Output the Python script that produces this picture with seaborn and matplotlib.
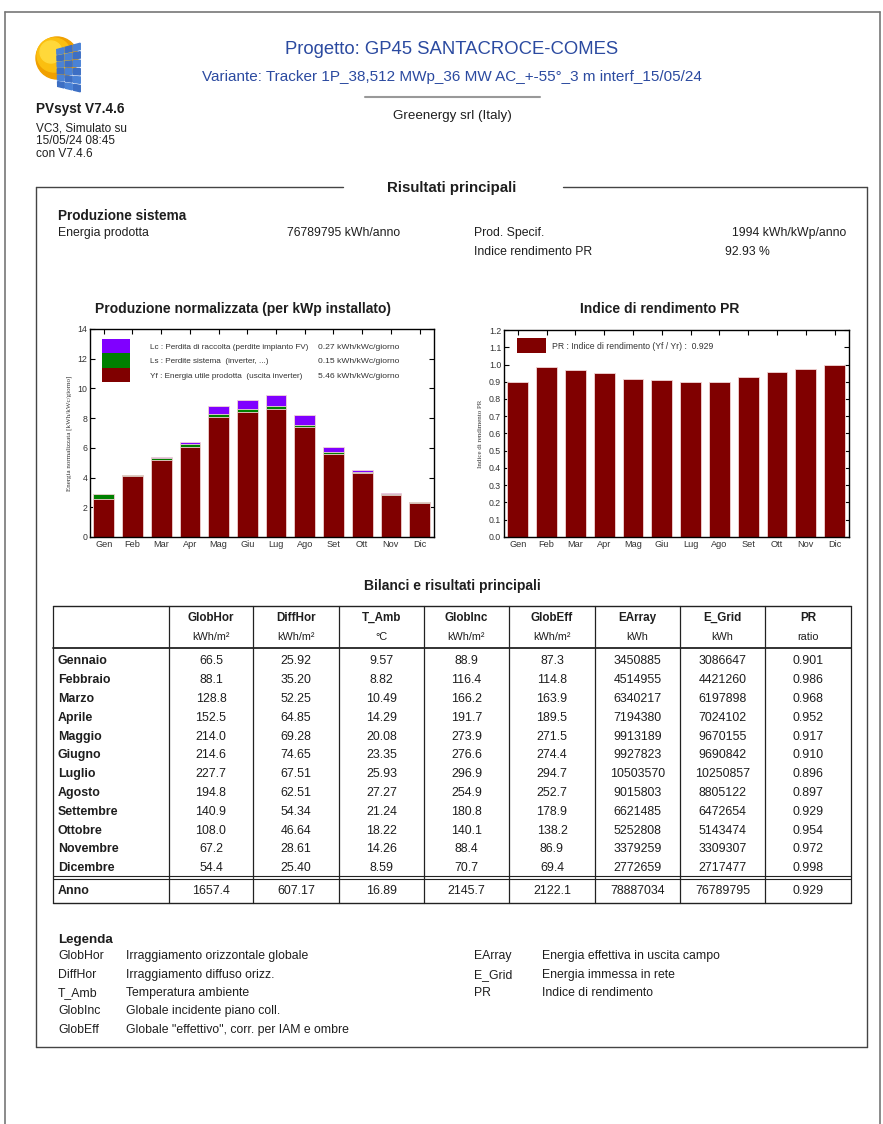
import matplotlib
matplotlib.use("Agg")
import matplotlib.pyplot as plt
import matplotlib.patches as mpatches
from matplotlib.lines import Line2D
from matplotlib.ticker import FormatStrFormatter
import numpy as np
import pandas as pd
import seaborn as sns

W, H = 883, 1124

# monthly normalized yields [kWh/kWc/giorno]
MESI = ["Gen", "Feb", "Mar", "Apr", "Mag", "Giu", "Lug", "Ago", "Set", "Ott", "Nov", "Dic"]
YF = [2.59, 4.10, 5.19, 6.08, 8.10, 8.39, 8.59, 7.38, 5.60, 4.31, 2.86, 2.28]
LS = [0.31, 0.09, 0.12, 0.15, 0.20, 0.21, 0.21, 0.18, 0.13, 0.09, 0.06, 0.05]
LC = [0.00, 0.00, 0.05, 0.16, 0.53, 0.63, 0.78, 0.67, 0.30, 0.12, 0.02, 0.00]
PR = [0.901, 0.986, 0.968, 0.952, 0.917, 0.910, 0.896, 0.897, 0.929, 0.954, 0.972, 0.998]

# table "Bilanci e risultati principali"
RIGHE = ["Gennaio", "Febbraio", "Marzo", "Aprile", "Maggio", "Giugno", "Luglio",
         "Agosto", "Settembre", "Ottobre", "Novembre", "Dicembre"]
COLONNE = ["GlobHor", "DiffHor", "T_Amb", "GlobInc", "GlobEff", "EArray", "E_Grid", "PR"]
UNITA = ["kWh/m²", "kWh/m²", "°C", "kWh/m²", "kWh/m²", "kWh", "kWh", "ratio"]
GLOBHOR = ["66.5", "88.1", "128.8", "152.5", "214.0", "214.6", "227.7", "194.8", "140.9", "108.0", "67.2", "54.4"]
DIFFHOR = ["25.92", "35.20", "52.25", "64.85", "69.28", "74.65", "67.51", "62.51", "54.34", "46.64", "28.61", "25.40"]
T_AMB = ["9.57", "8.82", "10.49", "14.29", "20.08", "23.35", "25.93", "27.27", "21.24", "18.22", "14.26", "8.59"]
GLOBINC = ["88.9", "116.4", "166.2", "191.7", "273.9", "276.6", "296.9", "254.9", "180.8", "140.1", "88.4", "70.7"]
GLOBEFF = ["87.3", "114.8", "163.9", "189.5", "271.5", "274.4", "294.7", "252.7", "178.9", "138.2", "86.9", "69.4"]
EARRAY = ["3450885", "4514955", "6340217", "7194380", "9913189", "9927823", "10503570", "9015803",
          "6621485", "5252808", "3379259", "2772659"]
E_GRID = ["3086647", "4421260", "6197898", "7024102", "9670155", "9690842", "10250857", "8805122",
          "6472654", "5143474", "3309307", "2717477"]
PR_TAB = ["0.901", "0.986", "0.968", "0.952", "0.917", "0.910", "0.896", "0.897", "0.929", "0.954", "0.972", "0.998"]
ANNO = ["1657.4", "607.17", "16.89", "2145.7", "2122.1", "78887034", "76789795", "0.929"]

LEGENDA_SX = [("GlobHor", "Irraggiamento orizzontale globale"),
              ("DiffHor", "Irraggiamento diffuso orizz."),
              ("T_Amb", "Temperatura ambiente"),
              ("GlobInc", "Globale incidente piano coll."),
              ("GlobEff", "Globale \"effettivo\", corr. per IAM e ombre")]
LEGENDA_DX = [("EArray", "Energia effettiva in uscita campo"),
              ("E_Grid", "Energia immessa in rete"),
              ("PR", "Indice di rendimento")]

sns.set_style("ticks")
plt.rcParams["font.family"] = ["Liberation Sans", "DejaVu Sans"]

fig = plt.figure(figsize=(W / 100, H / 100), dpi=100)
fig.patch.set_facecolor("white")

TXT = "#1e1e1e"
BODY = 8.8


def fx(x):
    return x / W


def fy(y):
    return 1 - y / H


def txt(x, y, s, fontsize=BODY, **kw):
    # y is the visual middle of the capitals, in pixels from the top
    kw.setdefault("color", TXT)
    base = y + 0.36 * fontsize * 100 / 72
    fig.text(fx(x), fy(base), s, va="baseline", fontsize=fontsize, **kw)


def line(xs, ys, **kw):
    kw.setdefault("color", "#444444")
    kw.setdefault("lw", 1.0)
    fig.add_artist(Line2D([fx(v) for v in xs], [fy(v) for v in ys], transform=fig.transFigure, **kw))


# page border
line([5, 5], [1124, 12], color="#777777", lw=1.2)
line([5, 880], [12, 12], color="#777777", lw=1.2)
line([880, 880], [12, 1124], color="#777777", lw=1.2)

# logo
lax = fig.add_axes([fx(32), fy(95), (84 - 32) / W, (95 - 32) / H])
lax.set_xlim(32, 84)
lax.set_ylim(95, 32)
lax.axis("off")
lax.add_patch(mpatches.Circle((57, 58), 21, color="#f0a000"))
lax.add_patch(mpatches.Circle((54, 55), 17, color="#fbbf10"))
lax.add_patch(mpatches.Circle((51, 52), 11, color="#ffd83a"))
tl, tr, br, bl = np.array([56, 49]), np.array([81, 42]), np.array([81, 93]), np.array([57, 87])
nc, nr = 3, 6
for i in range(nc):
    for j in range(nr):
        def p(u, v):
            top = tl + (tr - tl) * u
            bot = bl + (br - bl) * u
            return top + (bot - top) * v
        u0, u1 = i / nc + 0.03, (i + 1) / nc - 0.03
        v0, v1 = j / nr + 0.02, (j + 1) / nr - 0.02
        lax.add_patch(mpatches.Polygon([p(u0, v0), p(u1, v0), p(u1, v1), p(u0, v1)],
                                       color="#3d6fc4" if (i + j) % 2 else "#4a82d6"))

# header
txt(36, 108, "PVsyst V7.4.6", fontsize=9.8, fontweight="bold")
txt(36, 127, "VC3, Simulato su", fontsize=8.5)
txt(36, 140, "15/05/24 08:45", fontsize=8.5)
txt(36, 153, "con V7.4.6", fontsize=8.5)
txt(452, 47, "Progetto: GP45 SANTACROCE-COMES", fontsize=13.3, color="#2b4aa0", ha="center")
txt(452, 75, "Variante: Tracker 1P_38,512 MWp_36 MW AC_+-55°_3 m interf_15/05/24",
    fontsize=11, color="#2b4aa0", ha="center")
line([365, 540], [97, 97], color="#999999", lw=1.5)
txt(452, 114, "Greenergy srl (Italy)", fontsize=9.6, ha="center")

# main box
line([36, 343], [187, 187])
line([563, 867], [187, 187])
line([36, 36], [187, 1047])
line([867, 867], [187, 1047])
line([36, 867], [1047, 1047])
txt(452, 187, "Risultati principali", fontsize=10.8, fontweight="bold", ha="center")

txt(58, 215, "Produzione sistema", fontsize=9.8, fontweight="bold")
txt(58, 232, "Energia prodotta")
txt(287, 232, "76789795 kWh/anno")
txt(474, 232, "Prod. Specif.")
txt(846, 232, "1994 kWh/kWp/anno", ha="right")
txt(474, 251, "Indice rendimento PR")
txt(725, 251, "92.93 %")

# chart titles
txt(243, 308, "Produzione normalizzata (per kWp installato)", fontsize=10, fontweight="bold", ha="center")
txt(660, 308, "Indice di rendimento PR", fontsize=10, fontweight="bold", ha="center")

C_LC, C_LS, C_YF = "#8000ff", "#008000", "#800000"
bar_kw = dict(width=0.72, saturation=1, linewidth=0.6, edgecolor="#f2d6d6")


def style_axes(ax):
    for sp in ax.spines.values():
        sp.set_visible(True)
        sp.set_color("black")
        sp.set_linewidth(1.0)
    ax.tick_params(axis="both", direction="in", length=3.5, width=0.8, top=True, right=True,
                   labelsize=6.3, pad=2, colors="black", labelcolor="#333333")
    ax.tick_params(axis="x", labelsize=6.6)
    ax.set_xlabel("")
    ax.set_xlim(-0.48, 11.5)


# chart 1 - stacked normalized production
df = pd.DataFrame({"mese": MESI, "yf": YF, "ls": LS, "lc": LC})
df["ya"] = df.yf + df.ls
df["yr"] = df.ya + df.lc

ax1 = fig.add_axes([fx(90), fy(537), (434 - 90) / W, (537 - 329) / H])
sns.barplot(data=df, x="mese", y="yr", color=C_LC, ax=ax1, **bar_kw)
sns.barplot(data=df, x="mese", y="ya", color=C_LS, ax=ax1, **bar_kw)
sns.barplot(data=df, x="mese", y="yf", color=C_YF, ax=ax1, **bar_kw)
style_axes(ax1)
ax1.set_ylim(0, 14)
ax1.set_yticks(range(0, 15, 2))
ax1.set_ylabel("Energia normalizzata [kWh/kWc/giorno]", fontsize=5, family="Liberation Serif",
               color="#333333", labelpad=4)


def ax_pt(px, py, x0, x1, y0, y1):
    return (px - x0) / (x1 - x0), (y1 - py) / (y1 - y0)


leg1 = [(C_LC, "Lc : Perdita di raccolta (perdite impianto FV)", "0.27 kWh/kWc/giorno"),
        (C_LS, "Ls : Perdite sistema  (inverter, ...)", "0.15 kWh/kWc/giorno"),
        (C_YF, "Yf : Energia utile prodotta  (uscita inverter)", "5.46 kWh/kWc/giorno")]
for k, (c, lab, val) in enumerate(leg1):
    ytop = 339 + k * 14.3
    x0, y0 = ax_pt(102, ytop + 14.3, 90, 434, 329, 537)
    ax1.add_patch(mpatches.Rectangle((x0, y0), 28 / 344, 14.3 / 208, transform=ax1.transAxes,
                                     color=c, lw=0))
    tx, ty = ax_pt(150, ytop + 10, 90, 434, 329, 537)
    ax1.text(tx, ty, lab, transform=ax1.transAxes, fontsize=5.9, va="baseline", color="#333333")
    vx, _ = ax_pt(318, ytop, 90, 434, 329, 537)
    ax1.text(vx, ty, val, transform=ax1.transAxes, fontsize=6.1, va="baseline", color="#333333")

# chart 2 - performance ratio
ax2 = fig.add_axes([fx(504), fy(537), (849 - 504) / W, (537 - 330) / H])
sns.barplot(x=MESI, y=PR, color=C_YF, ax=ax2, **bar_kw)
style_axes(ax2)
ax2.set_ylim(0, 1.2)
ax2.set_yticks(np.arange(0, 1.21, 0.1))
ax2.yaxis.set_major_formatter(FormatStrFormatter("%.1f"))
ax2.set_ylabel("Indice di rendimento PR", fontsize=5, family="Liberation Serif",
               color="#333333", labelpad=4)
x0, y0 = ax_pt(517, 353, 504, 849, 330, 537)
ax2.add_patch(mpatches.Rectangle((x0, y0), 29 / 345, 15 / 207, transform=ax2.transAxes, color=C_YF, lw=0))
tx, ty = ax_pt(552, 349, 504, 849, 330, 537)
ax2.text(tx, ty, "PR : Indice di rendimento (Yf / Yr) :  0.929", transform=ax2.transAxes,
         fontsize=6.2, va="baseline", color="#333333")

# table
txt(452, 585, "Bilanci e risultati principali", fontsize=10, fontweight="bold", ha="center")
xs = [53, 169, 253, 339, 424, 509, 595, 680, 765, 851]
y_top, y_head, y_sep1, y_sep2, y_bot = 606, 648, 876, 879, 903
line([53, 851], [y_top, y_top], color="#222222")
line([53, 851], [y_head, y_head], color="#222222", lw=1.3)
line([53, 851], [y_sep1, y_sep1], color="#222222", lw=0.8)
line([53, 851], [y_sep2, y_sep2], color="#222222", lw=0.8)
line([53, 851], [y_bot, y_bot], color="#222222")
for x in xs:
    line([x, x], [y_top, y_bot], color="#222222", lw=0.9)

centers = [(xs[i] + xs[i + 1]) / 2 for i in range(1, len(xs) - 1)]
for cx, name, unit in zip(centers, COLONNE, UNITA):
    txt(cx, 617, name, fontsize=8.4, fontweight="bold", ha="center")
    txt(cx, 636, unit, fontsize=7.8, ha="center")

cols = [GLOBHOR, DIFFHOR, T_AMB, GLOBINC, GLOBEFF, EARRAY, E_GRID, PR_TAB]
for r, mese in enumerate(RIGHE):
    yy = 660 + r * 18.8
    txt(58, yy, mese, fontsize=8.9, fontweight="bold")
    for cx, col in zip(centers, cols):
        txt(cx, yy, col[r], fontsize=8.9, ha="center")
txt(58, 890, "Anno", fontsize=8.9, fontweight="bold")
for cx, v in zip(centers, ANNO):
    txt(cx, 890, v, fontsize=8.9, ha="center")

# legend
txt(58, 938, "Legenda", fontsize=9.6, fontweight="bold")
for k, (ab, desc) in enumerate(LEGENDA_SX):
    yy = 955 + k * 18.3
    txt(58, yy, ab)
    txt(126, yy, desc)
for k, (ab, desc) in enumerate(LEGENDA_DX):
    yy = 955 + k * 18.3
    txt(474, yy, ab)
    txt(542, yy, desc)

fig.savefig("out.png", dpi=100, facecolor="white")
